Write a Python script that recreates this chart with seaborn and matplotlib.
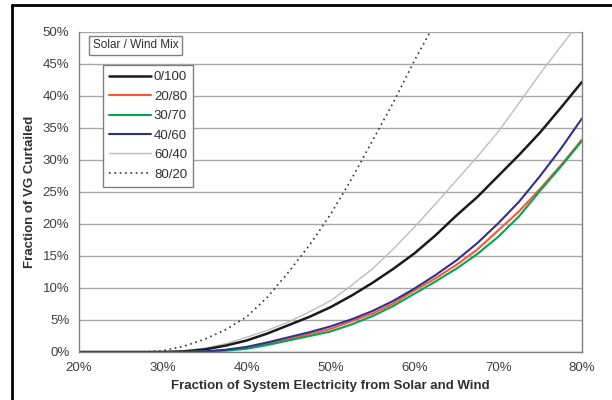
import numpy as np
import pandas as pd
import matplotlib
matplotlib.use("Agg")
import matplotlib.pyplot as plt
from matplotlib.ticker import PercentFormatter
import seaborn as sns

sns.set_style("white")
plt.rcParams["font.family"] = ["Liberation Sans", "DejaVu Sans"]

# x positions: fraction of system electricity from solar and wind (%)
share = [20, 22.5, 25, 27.5, 30, 32.5, 35, 37.5, 40, 42.5, 45, 47.5, 50,
         52.5, 55, 57.5, 60, 62.5, 65, 67.5, 70, 72.5, 75, 77.5, 80]

# curtailment (%) for each solar/wind mix
mix_0_100 = [0, 0, 0, 0, 0, 0.1, 0.4, 1.0, 1.8, 2.9, 4.2, 5.5, 7.0,
             8.8, 10.8, 13.0, 15.4, 18.2, 21.3, 24.2, 27.5, 30.8, 34.3, 38.2, 42.2]
mix_20_80 = [0, 0, 0, 0, 0, 0, 0.05, 0.3, 0.6, 1.3, 2.0, 2.8, 3.6,
             4.8, 6.0, 7.6, 9.6, 11.5, 13.6, 16.0, 19.0, 22.0, 25.5, 29.2, 33.2]
mix_30_70 = [0, 0, 0, 0, 0, 0, 0.05, 0.2, 0.5, 1.1, 1.8, 2.5, 3.2,
             4.3, 5.6, 7.2, 9.1, 11.0, 13.0, 15.3, 18.0, 21.2, 25.2, 29.0, 33.0]
mix_40_60 = [0, 0, 0, 0, 0, 0, 0.1, 0.35, 0.8, 1.5, 2.3, 3.1, 4.0,
             5.1, 6.4, 8.0, 9.9, 12.0, 14.3, 17.0, 20.1, 23.5, 27.5, 31.8, 36.5]
mix_60_40 = [0, 0, 0, 0, 0, 0.2, 0.6, 1.3, 2.3, 3.4, 4.7, 6.3, 8.0,
             10.4, 13.0, 16.1, 19.5, 23.1, 26.8, 30.5, 34.4, 38.9, 43.5, 47.8, 52.0]
mix_80_20 = [0, 0, 0, 0, 0.2, 0.9, 2.0, 3.5, 5.5, 8.6, 12.5, 16.7, 21.5,
             27.0, 33.0, 39.0, 45.5, 51.5, 58.0, np.nan, np.nan, np.nan, np.nan, np.nan, np.nan]

labels = ["0/100", "20/80", "30/70", "40/60", "60/40", "80/20"]
series = [mix_0_100, mix_20_80, mix_30_70, mix_40_60, mix_60_40, mix_80_20]
colors = ["#1a1a1a", "#ff5533", "#00a651", "#2e3192", "#bdbdbd", "#333333"]
widths = [1.8, 1.5, 1.5, 1.5, 1.0, 1.2]
styles = ["-", "-", "-", "-", "-", (0, (1, 2.2))]

fig = plt.figure(figsize=(6.12, 4.0), dpi=100)
ax = fig.add_axes([79 / 612, 48 / 400, 503 / 612, 320 / 400])

# draw order: gray & dotted first, colored/black on top
order = [4, 5, 0, 1, 2, 3]
for i in order:
    d = pd.DataFrame({"x": share, "y": series[i]})
    sns.lineplot(data=d, x="x", y="y", ax=ax, color=colors[i], lw=widths[i],
                 linestyle=styles[i], label=labels[i], legend=False)

ax.set_xlim(20, 80)
ax.set_ylim(0, 50)
ax.set_xticks(np.arange(20, 81, 10))
ax.set_yticks(np.arange(0, 51, 5))
ax.xaxis.set_major_formatter(PercentFormatter(decimals=0))
ax.yaxis.set_major_formatter(PercentFormatter(decimals=0))
ax.grid(axis="y", color="#a8a8a8", lw=1.0)
ax.grid(axis="x", visible=False)
for s in ["left", "bottom", "right"]:
    ax.spines[s].set_color("#808080")
    ax.spines[s].set_linewidth(1.0)
ax.spines["top"].set_visible(False)
ax.tick_params(axis="both", length=4, color="#808080", labelsize=9.5,
               labelcolor="#404040", direction="out", width=1)
ax.tick_params(axis="y", pad=3)

ax.set_xlabel("Fraction of System Electricity from Solar and Wind",
              fontsize=9.5, fontweight="bold", color="#303030", labelpad=4)
ax.set_ylabel("Fraction of VG Curtailed", fontsize=9.5, fontweight="bold",
              color="#303030", labelpad=5)

handles = [ax.lines[order.index(i)] for i in range(6)]
leg = ax.legend(handles, labels, loc="upper left", bbox_to_anchor=(0.048, 0.897),
                borderaxespad=0, fancybox=False, framealpha=1, edgecolor="#808080",
                fontsize=9.5, handlelength=3.2, handletextpad=0.2,
                labelspacing=0.55, borderpad=0.45)
for t in leg.get_texts():
    t.set_color("#303030")
leg.get_frame().set_linewidth(1.0)

ax.text(0.112, 0.959, "Solar / Wind Mix", transform=ax.transAxes, ha="center",
        va="center", fontsize=8.5, color="#303030",
        bbox=dict(boxstyle="square,pad=0.3", fc="white", ec="#808080", lw=1.0))

# outer frame (left and top edges of the cropped figure border)
fig.add_artist(plt.Line2D([12 / 612, 12 / 612], [0, 395 / 400], color="black", lw=2,
                          transform=fig.transFigure))
fig.add_artist(plt.Line2D([12 / 612, 1], [395 / 400, 395 / 400], color="black", lw=2,
                          transform=fig.transFigure))

fig.savefig("out.png", dpi=100)
